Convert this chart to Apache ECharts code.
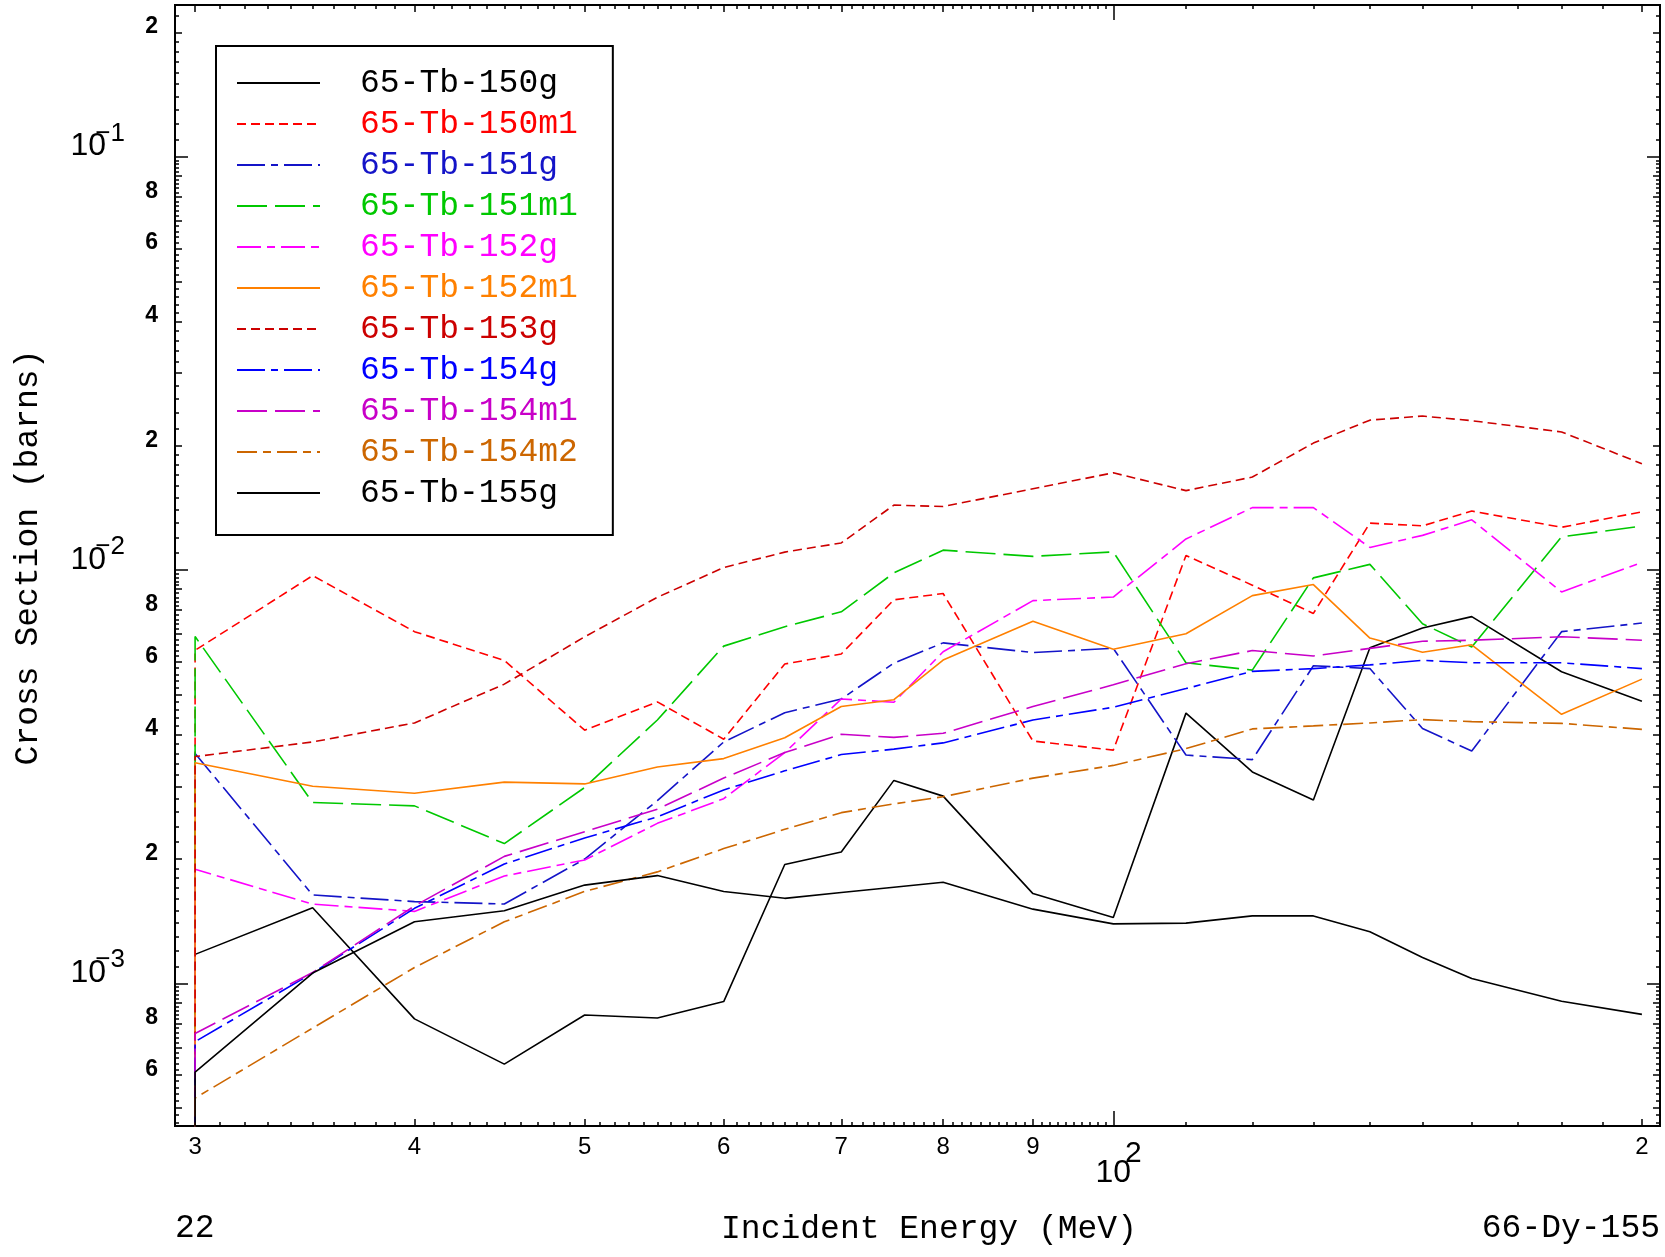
<!DOCTYPE html>
<html>
<head>
<meta charset="utf-8">
<script src="https://cdn.jsdelivr.net/npm/echarts@6/dist/echarts.min.js"></script>
<style>
html,body{margin:0;padding:0;background:#fff;}
#c{width:1665px;height:1257px;}
</style>
</head>
<body>
<div id="c"></div>
<script>
// ---------------- data ----------------
const energy = [30,35,40,45,50,55,60,65,70,75,80,90,100,110,120,130,140,150,160,180,200];
const thresholdEnergy = 30;        // reaction threshold: cross section is zero below it
const zeroValue = 1e-7;            // stands in for 0 on the log scale

const tb150g  = [1.176e-3,1.525e-3,8.21e-4,6.38e-4,8.39e-4,8.25e-4,9.04e-4,1.94e-3,2.08e-3,3.1e-3,2.84e-3,1.65e-3,1.445e-3,4.51e-3,3.25e-3,2.78e-3,6.49e-3,7.25e-3,7.72e-3,5.68e-3,4.82e-3];
const tb150m1 = [6.4e-3,9.7e-3,7.1e-3,6.05e-3,4.1e-3,4.8e-3,3.9e-3,5.93e-3,6.27e-3,8.48e-3,8.78e-3,3.86e-3,3.67e-3,1.085e-2,9.2e-3,7.86e-3,1.30e-2,1.28e-2,1.39e-2,1.27e-2,1.384e-2];
const tb151g  = [3.6e-3,1.637e-3,1.578e-3,1.557e-3,2.0e-3,2.77e-3,3.84e-3,4.52e-3,4.88e-3,5.96e-3,6.67e-3,6.32e-3,6.47e-3,3.57e-3,3.48e-3,5.87e-3,5.78e-3,4.14e-3,3.65e-3,7.1e-3,7.45e-3];
const tb151m1 = [6.91e-3,2.74e-3,2.69e-3,2.18e-3,2.98e-3,4.34e-3,6.55e-3,7.3e-3,7.93e-3,9.85e-3,1.118e-2,1.08e-2,1.107e-2,5.97e-3,5.73e-3,9.58e-3,1.033e-2,7.42e-3,6.52e-3,1.204e-2,1.278e-2];
const tb152g  = [1.89e-3,1.556e-3,1.494e-3,1.82e-3,1.99e-3,2.44e-3,2.8e-3,3.62e-3,4.88e-3,4.79e-3,6.35e-3,8.44e-3,8.61e-3,1.19e-2,1.417e-2,1.417e-2,1.135e-2,1.214e-2,1.324e-2,8.86e-3,1.044e-2];
const tb152m1 = [3.42e-3,3.0e-3,2.885e-3,3.07e-3,3.04e-3,3.34e-3,3.5e-3,3.93e-3,4.68e-3,4.86e-3,6.06e-3,7.52e-3,6.44e-3,7.02e-3,8.68e-3,9.23e-3,6.85e-3,6.33e-3,6.6e-3,4.48e-3,5.45e-3];
const tb153g  = [3.54e-3,3.84e-3,4.27e-3,5.3e-3,6.9e-3,8.6e-3,1.015e-2,1.106e-2,1.164e-2,1.437e-2,1.426e-2,1.574e-2,1.72e-2,1.558e-2,1.68e-2,2.03e-2,2.307e-2,2.36e-2,2.30e-2,2.16e-2,1.81e-2];
const tb154g  = [7.23e-4,1.06e-3,1.52e-3,1.946e-3,2.25e-3,2.53e-3,2.94e-3,3.27e-3,3.58e-3,3.69e-3,3.82e-3,4.34e-3,4.66e-3,5.17e-3,5.69e-3,5.78e-3,5.9e-3,6.05e-3,5.97e-3,5.97e-3,5.78e-3];
const tb154m1 = [7.57e-4,1.063e-3,1.54e-3,2.03e-3,2.33e-3,2.64e-3,3.14e-3,3.62e-3,4.01e-3,3.94e-3,4.03e-3,4.68e-3,5.28e-3,5.94e-3,6.39e-3,6.2e-3,6.47e-3,6.73e-3,6.77e-3,6.9e-3,6.77e-3];
const tb154m2 = [5.28e-4,7.8e-4,1.093e-3,1.41e-3,1.67e-3,1.862e-3,2.12e-3,2.36e-3,2.59e-3,2.72e-3,2.83e-3,3.14e-3,3.37e-3,3.70e-3,4.13e-3,4.2e-3,4.27e-3,4.35e-3,4.3e-3,4.26e-3,4.12e-3];
const tb155g  = [6.1e-4,1.06e-3,1.41e-3,1.50e-3,1.73e-3,1.824e-3,1.67e-3,1.607e-3,1.66e-3,1.71e-3,1.758e-3,1.513e-3,1.394e-3,1.40e-3,1.457e-3,1.457e-3,1.334e-3,1.156e-3,1.028e-3,9.06e-4,8.42e-4];

const seriesNames  = ['65-Tb-150g','65-Tb-150m1','65-Tb-151g','65-Tb-151m1','65-Tb-152g','65-Tb-152m1','65-Tb-153g','65-Tb-154g','65-Tb-154m1','65-Tb-154m2','65-Tb-155g'];
const seriesValues = [tb150g, tb150m1, tb151g, tb151m1, tb152g, tb152m1, tb153g, tb154g, tb154m1, tb154m2, tb155g];

// axis extents and tick labels
const xRange = [29.22, 204.8];
const yRange = [4.52e-4, 0.2331];
const xLabelTicks = [30,40,50,60,70,80,90,200];
const xLabelTexts = ['3','4','5','6','7','8','9','2'];
const xDecadeTicks = [100];
const xDecadeBase = ['10'];
const xDecadeExp  = ['2'];
const yLabelTicks = [6e-4,8e-4,2e-3,4e-3,6e-3,8e-3,2e-2,4e-2,6e-2,8e-2,0.2];
const yLabelTexts = ['6','8','2','4','6','8','2','4','6','8','2'];
const yDecadeTicks = [1e-3,1e-2,1e-1];
const yDecadeBase = ['10','10','10'];
const yDecadeExp  = ['\u22123','\u22122','\u22121'];

// ---------------- styles ----------------
const styles = {
  '65-Tb-150g':  {color:'#000000', type:'solid'},
  '65-Tb-150m1': {color:'#FF0000', type:[9,5]},
  '65-Tb-151g':  {color:'#1414C8', type:[28,6,7,6]},
  '65-Tb-151m1': {color:'#00C800', type:[30,8]},
  '65-Tb-152g':  {color:'#FF00FF', type:[24,6,8,6]},
  '65-Tb-152m1': {color:'#FF8000', type:'solid'},
  '65-Tb-153g':  {color:'#CC0000', type:[9,5]},
  '65-Tb-154g':  {color:'#0000FF', type:[28,6,7,6]},
  '65-Tb-154m1': {color:'#C800C8', type:[30,8]},
  '65-Tb-154m2': {color:'#CC6600', type:[20,6,8,6]},
  '65-Tb-155g':  {color:'#000000', type:'solid'}
};

// minor / medium tick values
const xMinorTicks = [];
for (let v = 31; v < 100; v++) if (v % 10 !== 0) xMinorTicks.push(v);
for (let v = 110; v < 200; v += 10) xMinorTicks.push(v);
const yMediumTicks = [], yMinorTicks = [];
[1e-4,1e-3,1e-2,1e-1].forEach(d => {
  for (let m = 2; m <= 9; m++) { const v = m * d; if (v >= yRange[0] && v <= yRange[1]) yMediumTicks.push(v); }
  for (let k = 11; k < 20; k++) { const v = k / 10 * d; if (v >= yRange[0] && v <= yRange[1]) yMinorTicks.push(v); }
  for (let k = 22; k < 100; k += 2) { if (k % 10 === 0) continue; const v = k / 10 * d; if (v >= yRange[0] && v <= yRange[1]) yMinorTicks.push(v); }
});

function lookup(ticks, texts) {
  return function (v) {
    const i = ticks.findIndex(t => Math.abs(t - v) / t < 1e-6);
    return i >= 0 ? texts[i] : '';
  };
}

const MONO = 'Liberation Mono';
const SANS = 'Liberation Sans';

function baseX(position, extra) {
  return Object.assign({
    type: 'log', logBase: 10, min: xRange[0], max: xRange[1], position: position,
    gridIndex: 0, splitLine: {show: false},
    axisLine: {show: true, lineStyle: {color: '#000', width: 2}},
    axisTick: {show: false},
    axisLabel: {show: false},
    axisPointer: {show: false}
  }, extra);
}
function baseY(position, extra) {
  return Object.assign({
    type: 'log', logBase: 10, min: yRange[0], max: yRange[1], position: position,
    gridIndex: 0, splitLine: {show: false},
    axisLine: {show: true, lineStyle: {color: '#000', width: 2}},
    axisTick: {show: false},
    axisLabel: {show: false},
    axisPointer: {show: false}
  }, extra);
}
function ticks(values, len) {
  return {show: true, inside: true, length: len, customValues: values, lineStyle: {color: '#000', width: 1.5}};
}

const xAxes = [
  baseX('bottom', {
    axisTick: ticks(xLabelTicks, 7),
    axisLabel: {show: true, customValues: xLabelTicks, formatter: lookup(xLabelTicks, xLabelTexts),
      fontFamily: SANS, fontSize: 24, color: '#000', margin: 9},
    name: 'Incident Energy (MeV)', nameLocation: 'middle', nameGap: 87,
    nameTextStyle: {fontFamily: MONO, fontSize: 33, color: '#000', padding: [0,0,0,23]}
  }),
  baseX('bottom', {
    axisTick: ticks(xDecadeTicks, 15),
    axisLabel: {show: true, customValues: xDecadeTicks, formatter: lookup(xDecadeTicks, xDecadeBase),
      fontFamily: SANS, fontSize: 32, color: '#000', margin: 31}
  }),
  baseX('bottom', {
    axisLine: {show: false},
    axisLabel: {show: true, customValues: xDecadeTicks, formatter: lookup(xDecadeTicks, xDecadeExp),
      fontFamily: SANS, fontSize: 30, color: '#000', margin: 13, padding: [0,0,0,40]}
  }),
  baseX('bottom', {axisTick: ticks(xMinorTicks, 4)}),
  baseX('top', {axisTick: ticks(xLabelTicks, 7)}),
  baseX('top', {axisTick: ticks(xDecadeTicks, 15)}),
  baseX('top', {axisTick: ticks(xMinorTicks, 4)})
];

const yAxes = [
  baseY('left', {
    axisTick: ticks(yMediumTicks, 7),
    axisLabel: {show: true, customValues: yLabelTicks, formatter: lookup(yLabelTicks, yLabelTexts),
      fontFamily: SANS, fontWeight: 'bold', fontSize: 23, color: '#000', margin: 17,
      verticalAlign: 'bottom', lineHeight: 11},
    name: 'Cross Section (barns)', nameLocation: 'middle', nameGap: 130, nameRotate: 90,
    nameTextStyle: {fontFamily: MONO, fontSize: 33, color: '#000', padding: [0,0,0,16]}
  }),
  baseY('left', {
    axisTick: ticks(yDecadeTicks, 13),
    axisLabel: {show: true, customValues: yDecadeTicks, formatter: lookup(yDecadeTicks, yDecadeBase),
      fontFamily: SANS, fontSize: 32, color: '#000', margin: 69,
      verticalAlign: 'bottom', lineHeight: 21}
  }),
  baseY('left', {
    axisLine: {show: false},
    axisLabel: {show: true, customValues: yDecadeTicks, formatter: lookup(yDecadeTicks, yDecadeExp),
      fontFamily: SANS, fontSize: 26, color: '#000', margin: 50,
      verticalAlign: 'bottom', lineHeight: 47}
  }),
  baseY('left', {axisTick: ticks(yMinorTicks, 4)}),
  baseY('right', {axisTick: ticks(yMediumTicks, 7)}),
  baseY('right', {axisTick: ticks(yDecadeTicks, 13)}),
  baseY('right', {axisTick: ticks(yMinorTicks, 4)})
];

const series = seriesNames.map((name, i) => {
  const st = styles[name];
  const data = [[thresholdEnergy, zeroValue]].concat(energy.map((e, j) => [e, seriesValues[i][j]]));
  return {
    name: name, type: 'line', xAxisIndex: 0, yAxisIndex: 0,
    data: data, symbol: 'none', showSymbol: false, smooth: false, clip: true,
    lineStyle: {color: st.color, width: 1.6, type: st.type},
    itemStyle: {color: st.color},
    emphasis: {disabled: true},
    animation: false
  };
});

const option = {
  animation: false,
  backgroundColor: '#ffffff',
  textStyle: {fontFamily: SANS},
  grid: {left: 175, top: 5, width: 1485, height: 1121, containLabel: false, outerBoundsMode: 'none'},
  xAxis: xAxes,
  yAxis: yAxes,
  legend: {
    show: true, orient: 'vertical', left: 216, top: 46,
    padding: [17, 35, 22, 20], borderColor: '#000', borderWidth: 2, backgroundColor: '#fff',
    itemWidth: 83, itemHeight: 14, itemGap: 1,
    selectedMode: false,
    itemStyle: {opacity: 0},
    textStyle: {fontFamily: MONO, fontSize: 33, lineHeight: 40, padding: [0,0,0,35]},
    data: seriesNames.map(n => ({name: n, textStyle: {color: styles[n].color}}))
  },
  graphic: [
    {type: 'text', left: 175, top: 1212, style: {text: '22', fontFamily: MONO, fontSize: 33, fill: '#000'}},
    {type: 'text', right: 5, top: 1212, style: {text: '66-Dy-155', fontFamily: MONO, fontSize: 33, fill: '#000'}}
  ],
  series: series
};

const chart = echarts.init(document.getElementById('c'), null, {renderer: 'canvas', width: 1665, height: 1257});
chart.setOption(option);
</script>
</body>
</html>
